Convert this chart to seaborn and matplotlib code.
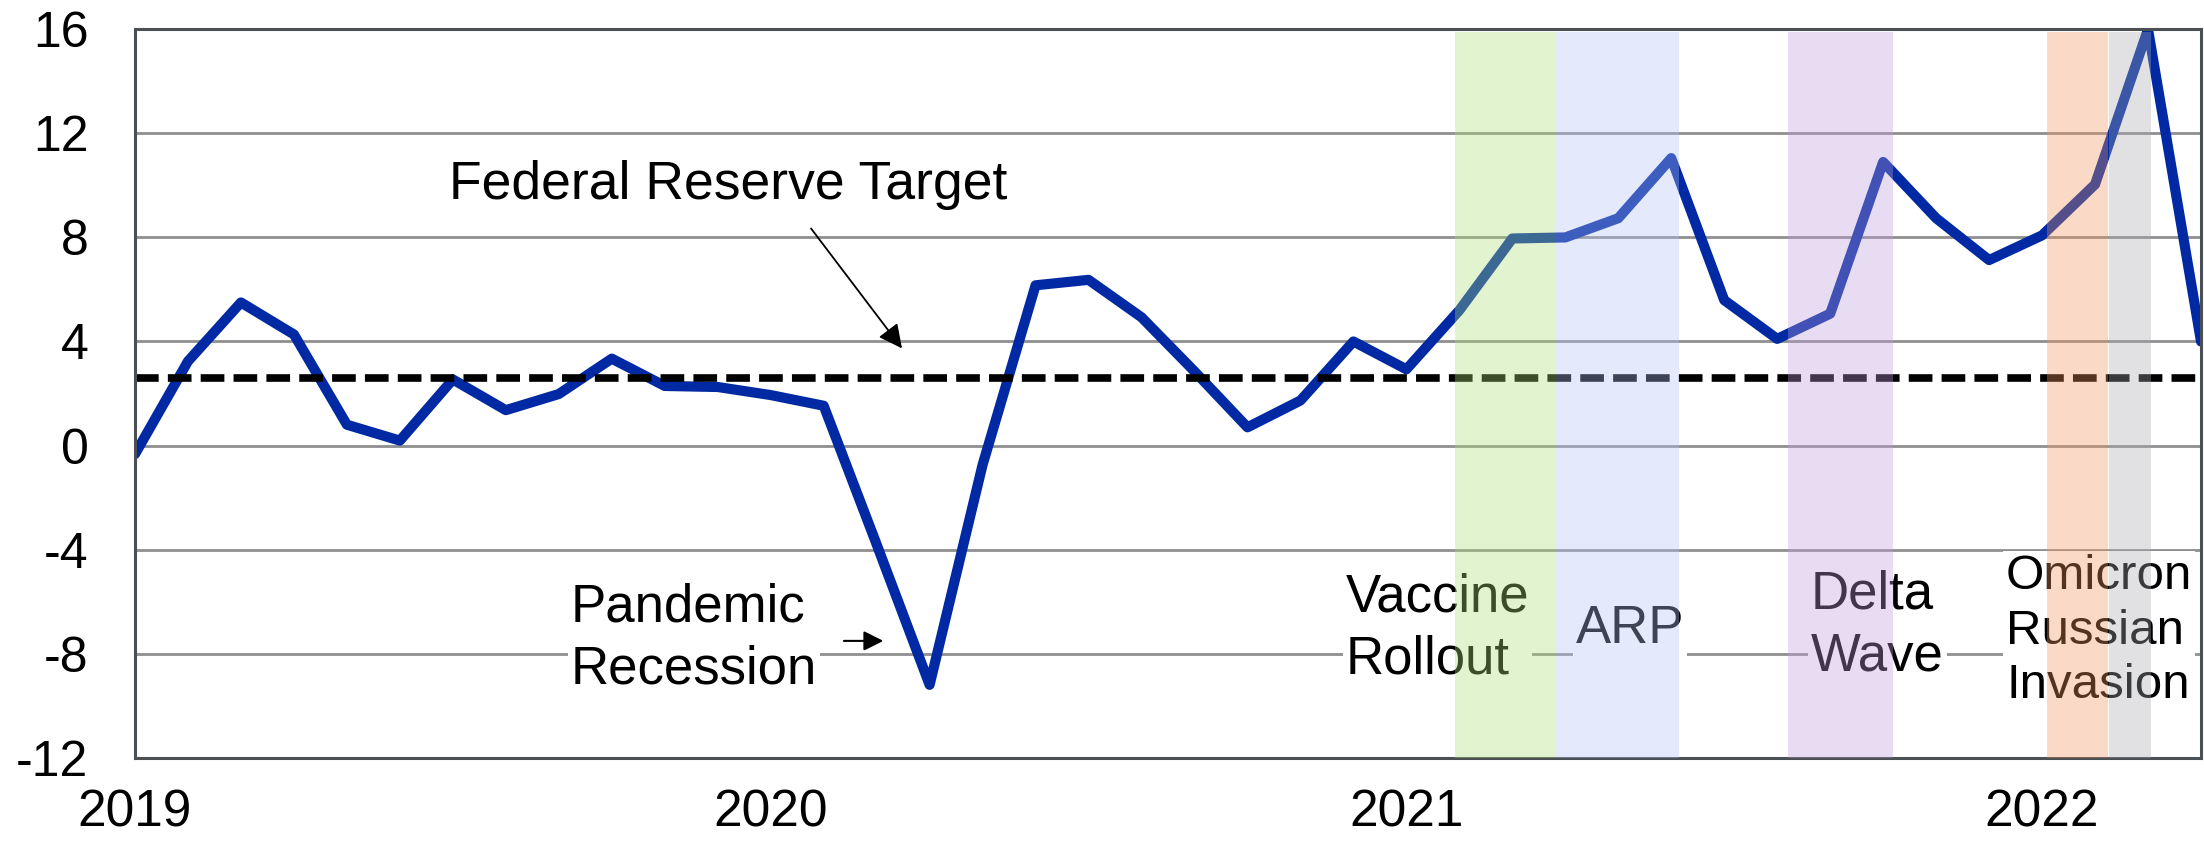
import numpy as np
import pandas as pd
import matplotlib
matplotlib.use('Agg')
import matplotlib.pyplot as plt
import seaborn as sns

# monthly series, Jan 2019 - Apr 2022
months = pd.date_range('2019-01-01', periods=40, freq='MS')
values = [-0.33, 3.24, 5.5, 4.27, 0.8, 0.19, 2.54, 1.36, 1.98, 3.34, 2.29, 2.25,
          1.94, 1.53, -3.8, -9.2, -0.74, 6.16, 6.37, 4.93, 2.85, 0.7, 1.73, 4.0,
          2.93, 5.2, 7.96, 8.0, 8.74, 11.05, 5.59, 4.1, 5.07, 10.9, 8.74, 7.13,
          8.08, 10.04, 16.0, 4.0]
fed_target = 2.6

# shaded periods (in month positions)
event_start = [24.91, 26.83, 31.21, 36.1, 37.27]
event_end = [26.83, 29.15, 33.18, 37.24, 38.06]
event_colors = ['#ace276', '#b4c2f6', '#bd9dd9', '#f39561', '#a9abb1']

year_labels = ['2019', '2020', '2021', '2022']
yticks = [-12, -8, -4, 0, 4, 8, 12, 16]

df = pd.DataFrame({'pos': np.arange(len(values)), 'value': values, 'month': months})

sns.set_style('white')
plt.rcParams['font.family'] = ['Liberation Sans', 'DejaVu Sans']
plt.rcParams['axes.unicode_minus'] = False
plt.rcParams['text.color'] = 'black'
plt.rcParams['xtick.labelcolor'] = 'black'
plt.rcParams['ytick.labelcolor'] = 'black'

fig = plt.figure(figsize=(22.04, 8.43), dpi=100)
ax = fig.add_axes([0.06125, 0.1012, 0.99864 - 0.06125, 0.9652 - 0.1012])

sns.lineplot(data=df, x='pos', y='value', ax=ax, color='#0029a3', lw=7.3, zorder=2)
ax.axhline(fed_target, color='black', lw=5.5, dashes=(3.1, 1.2), zorder=2)

for s, e, c in zip(event_start, event_end, event_colors):
    ax.axvspan(s, e, ymin=0.0, ymax=0.996, color=c, alpha=0.35, lw=0, zorder=4)

ax.set_xlim(0, len(values) - 1)
ax.set_ylim(-12, 16)
ax.set_xticks(np.arange(len(values)))
ax.set_xticklabels([year_labels[i // 12] if i % 12 == 0 else '' for i in range(len(values))])
ax.set_yticks(yticks)
ax.set_yticklabels([str(t) for t in yticks])
ax.set_xlabel('')
ax.set_ylabel('')

spine_col = '#4b5055'
for sp in ax.spines.values():
    sp.set_color(spine_col)
    sp.set_linewidth(2.2)
ax.tick_params(axis='both', direction='inout', length=23, width=2, color=spine_col)
ax.tick_params(axis='x', labelsize=37, pad=11)
ax.tick_params(axis='y', labelsize=36, pad=22)
ax.set_axisbelow(True)
ax.yaxis.grid(True, color='#8f8f8f', lw=2)
ax.xaxis.grid(False)

box = dict(facecolor='white', edgecolor='none', pad=2)
ax.text(5.93, 10.0, 'Federal Reserve Target', fontsize=38.5, ha='left', va='center', zorder=3)
ax.annotate('', xy=(14.51, 3.65), xytext=(12.73, 8.43),
            arrowprops=dict(arrowstyle='-|>', color='black', lw=1.3, mutation_scale=36), zorder=3)
ax.text(8.23, -7.41, 'Pandemic\nRecession', fontsize=38, ha='left', va='center',
        linespacing=1.3, bbox=box, zorder=3)
ax.annotate('', xy=(14.18, -7.51), xytext=(13.33, -7.51),
            arrowprops=dict(arrowstyle='-|>', color='black', lw=1.5, mutation_scale=30), zorder=3)
ax.text(22.86, -7.04, 'Vaccine\nRollout', fontsize=38, ha='left', va='center',
        linespacing=1.3, bbox=box, zorder=3)
ax.text(27.2, -7.05, 'ARP', fontsize=38, ha='left', va='center', bbox=box, zorder=3)
ax.text(31.64, -6.93, 'Delta\nWave', fontsize=38, ha='left', va='center',
        linespacing=1.3, bbox=box, zorder=3)
ax.text(35.32, -7.13, 'Omicron\nRussian\nInvasion', fontsize=35.5, ha='left', va='center',
        linespacing=1.28, bbox=box, zorder=3)

fig.savefig('out.png', dpi=100)
